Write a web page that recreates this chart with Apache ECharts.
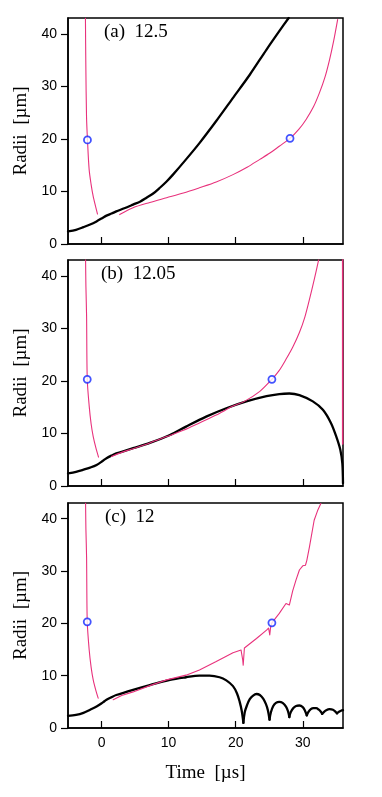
<!DOCTYPE html>
<html>
<head>
<meta charset="utf-8">
<script src="https://cdn.jsdelivr.net/npm/echarts@6/dist/echarts.min.js"></script>
<style>html,body{margin:0;padding:0;background:#fff}#c{width:382px;height:797px}</style>
</head>
<body>
<div id="c"></div>
<script>
// ---- data ----
const xTicks = [0, 10, 20, 30];
const yTicks = [0, 10, 20, 30, 40];
const panelLabels = ['(a)  12.5', '(b)  12.05', '(c)  12'];

// Panel (a)
const aBlackT = [-5, -3.8, -2.7, -1.7, -0.75, 0.2, 0.74, 1.5, 2.2, 3.4, 4.7, 5.8, 6.7, 7.7, 8.7, 9.7, 10.65, 12.6, 14.6, 17.1, 19.6, 22.1, 24.6, 26.5, 27.9];
const aBlackR = [2.4, 2.7, 3.2, 3.7, 4.3, 5.0, 5.4, 5.8, 6.2, 6.8, 7.5, 8.1, 8.8, 9.6, 10.7, 11.9, 13.2, 16.1, 19.2, 23.4, 27.8, 32.2, 37.0, 40.5, 43.0];
const aPinkLT = [-2.4, -2.37, -2.34, -2.24, -2.1, -1.85, -1.55, -1.25, -0.9, -0.6];
const aPinkLR = [43.0, 38.0, 33.8, 24.3, 19.9, 14.2, 11.3, 9.1, 7.2, 5.7];
const aPinkRT = [2.7, 4.7, 7.2, 9.7, 12.2, 14.6, 17.1, 19.6, 21.7, 23.6, 25.1, 26.5, 28.1, 29.4, 30.5, 31.6, 32.5, 33.3, 34.0, 34.6, 35.2];
const aPinkRR = [5.6, 6.9, 7.9, 8.8, 9.7, 10.7, 11.8, 13.2, 14.6, 16.1, 17.3, 18.6, 20.1, 21.8, 23.7, 26.1, 28.8, 31.7, 35.1, 38.6, 42.7];
const aCircT = [-2.1, 28.1];
const aCircR = [19.8, 20.1];

// Panel (b)
const bBlackT = [-5, -3.8, -2.7, -1.7, -0.74, 0.2, 0.74, 1.5, 2.2, 4.7, 7.2, 10.2, 12.6, 15.6, 18.6, 21.6, 24.6, 26.5, 28.0, 29.5, 31.5, 33.0, 34.2, 35.0, 35.6, 35.9, 36.0];
const bBlackR = [2.4, 2.7, 3.1, 3.5, 4.0, 4.8, 5.3, 5.8, 6.2, 7.2, 8.2, 9.7, 11.3, 13.2, 14.8, 16.1, 17.1, 17.5, 17.6, 17.3, 16.1, 14.5, 12.0, 9.4, 6.9, 4.3, 0.5];
const bPinkLT = [-2.38, -2.33, -2.23, -2.13, -1.84, -1.55, -1.24, -0.85, -0.45];
const bPinkLR = [43.2, 38.0, 32.4, 20.3, 15.2, 11.8, 9.4, 7.3, 5.5];
const bPinkRT = [1.5, 3.0, 4.7, 7.2, 9.7, 12.2, 14.6, 17.1, 19.6, 21.3, 23.6, 25.4, 26.5, 27.5, 28.5, 29.5, 30.3, 31.0, 31.7, 32.4];
const bPinkRR = [5.6, 6.4, 7.1, 8.2, 9.4, 10.6, 12.0, 13.5, 15.2, 16.1, 18.0, 20.3, 22.0, 24.1, 26.4, 29.2, 32.1, 35.5, 39.2, 43.2];
const bPinkEdgeT = [35.95, 35.95];
const bPinkEdgeR = [43.2, 8.0];
const bCircT = [-2.13, 25.4];
const bCircR = [20.3, 20.3];

// Panel (c)
const cBlackT = [-5, -3.8, -2.7, -1.7, -0.74, 0.2, 0.74, 1.5, 2.2, 4.7, 7.2, 10.2, 12.6, 14.6, 16.1, 17.6, 18.6, 19.6, 20.2, 20.6, 20.9, 21.15,
  21.35, 21.7, 22.1, 22.6, 23.1, 23.6, 24.1, 24.5, 24.8, 25.05,
  25.25, 25.6, 26.0, 26.5, 27.0, 27.5, 27.8, 28.0,
  28.2, 28.6, 29.0, 29.5, 30.0, 30.3, 30.6,
  30.8, 31.2, 31.6, 32.0, 32.4, 32.7, 32.9,
  33.1, 33.5, 34.0, 34.5, 34.9, 35.1,
  35.4, 35.7, 36.0];
const cBlackR = [2.3, 2.5, 2.9, 3.5, 4.1, 4.9, 5.4, 5.9, 6.3, 7.3, 8.2, 9.2, 9.7, 10.0, 10.0, 9.7, 9.1, 8.0, 6.6, 5.0, 3.3, 1.0,
  3.0, 4.4, 5.5, 6.2, 6.5, 6.3, 5.6, 4.6, 3.4, 1.6,
  3.0, 4.2, 4.8, 5.0, 4.8, 4.1, 3.2, 2.1,
  3.0, 3.8, 4.2, 4.3, 4.0, 3.4, 2.4,
  3.0, 3.6, 3.8, 3.8, 3.5, 3.1, 2.7,
  3.0, 3.4, 3.6, 3.5, 3.1, 2.8,
  3.1, 3.3, 3.4];
const cCuspT = [21.15, 25.05, 28.0, 30.6, 32.9, 35.1];
const cPinkLT = [-2.38, -2.33, -2.23, -2.13, -1.84, -1.55, -1.24, -0.85, -0.5];
const cPinkLR = [43.0, 38.0, 32.7, 20.3, 14.9, 11.6, 9.2, 7.2, 5.7];
const cPinkRT = [1.74, 3.0, 4.7, 7.2, 9.7, 12.6, 14.6, 17.1, 19.6, 20.8, 21.05, 21.12, 21.3, 23.1, 24.6, 24.9, 25.0, 25.08, 25.2, 25.4, 26.5, 27.5, 27.7, 28.0, 28.5, 29.0, 29.5, 30.0, 30.4, 30.6, 31.0, 31.7, 32.2, 32.7];
const cPinkRR = [5.4, 6.2, 6.9, 8.1, 9.2, 10.1, 11.1, 12.7, 14.4, 14.9, 13.0, 12.0, 15.3, 17.1, 18.7, 19.1, 18.4, 17.8, 19.2, 20.1, 21.9, 23.8, 24.1, 23.5, 26.2, 28.3, 30.2, 31.0, 31.1, 32.0, 34.6, 39.7, 41.5, 42.9];
const cCircT = [-2.13, 25.4];
const cCircR = [20.3, 20.1];

// ---- build ----
const zip = (t, r) => t.map((v, i) => [v, r[i]]);
const PINK = '#e8327c';
const BLUE = '#1428ff';
const SERIF = '"Liberation Serif", "Times New Roman", serif';
const SANS = '"Liberation Sans", Arial, sans-serif';

// split a curve into segments at cusp times (each cusp shared by neighbours)
function splitAt(t, r, cusps) {
  const pts = zip(t, r), segs = [];
  let cur = [];
  pts.forEach(p => {
    cur.push(p);
    if (cusps.indexOf(p[0]) >= 0) { segs.push(cur); cur = [p]; }
  });
  if (cur.length > 1) segs.push(cur);
  return segs;
}

const grids = [
  {left: 68, width: 275, top: 18, height: 226},
  {left: 68, width: 275, top: 260, height: 226},
  {left: 68, width: 275, top: 503, height: 225}
].map(g => Object.assign(g, {show: true, borderColor: '#000', borderWidth: 1.5, backgroundColor: 'transparent'}));

const xAxes = [0, 1, 2].map(i => ({
  type: 'value', gridIndex: i, min: -5, max: 36,
  axisLine: {show: true, onZero: false, lineStyle: {color: '#000', width: 1.5}},
  axisTick: {show: true, inside: true, length: 7, customValues: xTicks, lineStyle: {color: '#000', width: 1.2}},
  axisLabel: {show: i === 2, customValues: xTicks, color: '#000', fontFamily: SANS, fontSize: 14, margin: 8},
  splitLine: {show: false},
  name: i === 2 ? 'Time  [\u00b5s]' : '',
  nameLocation: 'middle', nameGap: 36,
  nameTextStyle: {color: '#000', fontFamily: SERIF, fontSize: 19}
}));
const yAxes = [0, 1, 2].map(i => ({
  type: 'value', gridIndex: i, min: 0, max: 43,
  axisLine: {show: true, onZero: false, lineStyle: {color: '#000', width: 1.5}},
  axisTick: {show: true, inside: false, length: 7, customValues: yTicks, lineStyle: {color: '#000', width: 1.2}},
  axisLabel: {customValues: yTicks, color: '#000', fontFamily: SANS, fontSize: 14, margin: 11},
  splitLine: {show: false},
  name: 'Radii  [\u00b5m]', nameLocation: 'middle', nameGap: 36, nameRotate: 90,
  nameTextStyle: {color: '#000', fontFamily: SERIF, fontSize: 19}
}));

function lineD(i, data, color, width, smooth, z) {
  return {type: 'line', xAxisIndex: i, yAxisIndex: i, data: data, showSymbol: false, symbol: 'none',
    smooth: smooth, lineStyle: {color: color, width: width, cap: 'round', join: 'round'}, z: z || 2, silent: true, clip: true};
}
function line(i, t, r, color, width, smooth, z) { return lineD(i, zip(t, r), color, width, smooth, z); }
function circ(i, t, r) {
  return {type: 'scatter', xAxisIndex: i, yAxisIndex: i, data: zip(t, r), symbol: 'circle', symbolSize: 7,
    itemStyle: {color: '#fff', borderColor: BLUE, borderWidth: 1.8}, z: 5, silent: true};
}

const series = [
  line(0, aBlackT, aBlackR, '#000', 2.3, 0.3, 3),
  line(0, aPinkLT, aPinkLR, PINK, 1.1, 0.3),
  line(0, aPinkRT, aPinkRR, PINK, 1.1, 0.3),
  circ(0, aCircT, aCircR),
  line(1, bBlackT, bBlackR, '#000', 2.3, 0.3, 3),
  line(1, bPinkLT, bPinkLR, PINK, 1.1, 0.3),
  line(1, bPinkRT, bPinkRR, PINK, 1.1, 0.3, 4),
  line(1, bPinkEdgeT, bPinkEdgeR, PINK, 1.5, false),
  circ(1, bCircT, bCircR),
  line(2, cPinkLT, cPinkLR, PINK, 1.1, 0.3),
  line(2, cPinkRT, cPinkRR, PINK, 1.1, false, 4),
  circ(2, cCircT, cCircR)
].concat(splitAt(cBlackT, cBlackR, cCuspT).map(seg => lineD(2, seg, '#000', 2.3, 0.35, 3)));

const labelPos = [[104, 34], [101, 276], [105, 519]];
const graphic = panelLabels.map((s, i) => ({
  type: 'text', left: labelPos[i][0], top: labelPos[i][1] - 11,
  style: {text: s, font: '19px ' + SERIF, fill: '#000'}, z: 10
}));

const chart = echarts.init(document.getElementById('c'), null, {renderer: 'canvas'});
chart.setOption({
  animation: false,
  backgroundColor: '#fff',
  grid: grids, xAxis: xAxes, yAxis: yAxes, series: series, graphic: graphic
});
</script>
</body>
</html>
